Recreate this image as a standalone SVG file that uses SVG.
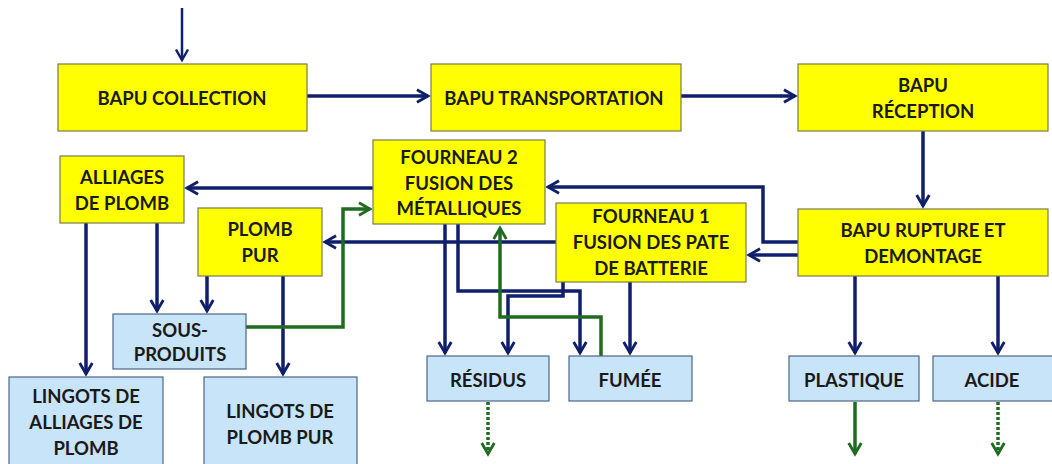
<svg xmlns="http://www.w3.org/2000/svg" width="1052" height="464" viewBox="0 0 1052 464">
<defs>
<marker id="ab" viewBox="0 0 10 10" refX="8" refY="5" markerWidth="4.5" markerHeight="4.5" markerUnits="strokeWidth" orient="auto"><path d="M1,1 L8,5 L1,9" fill="none" stroke="#0f1f6b" stroke-width="1.8"/></marker>
<marker id="ab2" viewBox="0 0 10 10" refX="8" refY="5" markerWidth="6" markerHeight="6" markerUnits="strokeWidth" orient="auto"><path d="M1,1 L8,5 L1,9" fill="none" stroke="#0f1f6b" stroke-width="1.6"/></marker>
<marker id="ag" viewBox="0 0 10 10" refX="8" refY="5" markerWidth="4.5" markerHeight="4.5" markerUnits="strokeWidth" orient="auto"><path d="M1,1 L8,5 L1,9" fill="none" stroke="#1f6b1f" stroke-width="1.8"/></marker>
</defs>
<style>
.y{fill:#ffff00;stroke:#7a7a50;stroke-width:1.2}
.b{fill:#c8e4f8;stroke:#4c6686;stroke-width:1.2}
text{font-family:Lato,"Liberation Sans",sans-serif;font-weight:bold;font-size:18.5px;fill:#1a1a1a;text-anchor:middle}
.c{fill:none;stroke:#0f1f6b;stroke-width:3.5;marker-end:url(#ab)}
.g{fill:none;stroke:#1f6b1f;stroke-width:3.5;marker-end:url(#ag)}
.d{stroke-dasharray:3,2}
</style>
<rect width="1052" height="464" fill="#ffffff"/>
<g id="connectors">
<path d="M182,8 V60" fill="none" stroke="#0f1f6b" stroke-width="2.5" marker-end="url(#ab2)"/>
<path class="c" d="M307,96 H428"/>
<path class="c" d="M681,96 H795"/>
<path class="c" d="M923,131 V206"/>
<path class="c" d="M798,255 H749"/>
<path class="c" d="M798,242 H763 V187 H548"/>
<path class="c" d="M373,188 H187"/>
<path class="c" d="M556,242 H325"/>
<path class="c" d="M86,223 V374"/>
<path class="c" d="M157,223 V311"/>
<path class="c" d="M207,276 V311"/>
<path class="c" d="M283,276 V374"/>
<path class="c" d="M445,224 V353"/>
<path class="c" d="M458,224 V291 H580 V353"/>
<path class="c" d="M563,282 V296 H508 V353"/>
<path class="c" d="M630,282 V353"/>
<path class="c" d="M855,276 V353"/>
<path class="c" d="M998,276 V353"/>
<path class="g" d="M246,327 H343 V209 H370"/>
<path class="g" d="M601,356 V317 H500 V228"/>
<path class="g d" d="M488,402 V454"/>
<path class="g" d="M855,402 V454"/>
<path class="g d" d="M998,402 V454"/>
</g>
<g id="n-collection"><rect class="y" x="58" y="64" width="249" height="67"/><text x="182" y="105">BAPU COLLECTION</text></g>
<g id="n-transport"><rect class="y" x="431" y="64" width="250" height="67"/><text x="554" y="105">BAPU TRANSPORTATION</text></g>
<g id="n-reception"><rect class="y" x="798" y="64" width="250" height="67"/><text x="923" y="92">BAPU</text><text x="923" y="118">RÉCEPTION</text></g>
<g id="n-rupture"><rect class="y" x="798" y="209" width="250" height="67"/><text x="923" y="237">BAPU RUPTURE ET</text><text x="923" y="263">DEMONTAGE</text></g>
<g id="n-f1"><rect class="y" x="556" y="203" width="190" height="79"/><text x="651" y="223">FOURNEAU 1</text><text x="651" y="249">FUSION DES PATE</text><text x="651" y="275">DE BATTERIE</text></g>
<g id="n-f2"><rect class="y" x="373" y="140" width="172" height="84"/><text x="459" y="164">FOURNEAU 2</text><text x="459" y="190">FUSION DES</text><text x="459" y="215">MÉTALLIQUES</text></g>
<g id="n-alliages"><rect class="y" x="60" y="156" width="124" height="67"/><text x="122" y="184">ALLIAGES</text><text x="122" y="210">DE PLOMB</text></g>
<g id="n-plombpur"><rect class="y" x="198" y="208" width="124" height="68"/><text x="260" y="236">PLOMB</text><text x="260" y="262">PUR</text></g>
<g id="n-sous"><rect class="b" x="113" y="314" width="133" height="55"/><text x="180" y="337">SOUS-</text><text x="180" y="361">PRODUITS</text></g>
<g id="n-lingots-a"><rect class="b" x="9" y="377" width="154" height="92"/><text x="86" y="403">LINGOTS DE</text><text x="86" y="429">ALLIAGES DE</text><text x="86" y="455">PLOMB</text></g>
<g id="n-lingots-p"><rect class="b" x="204" y="377" width="153" height="92"/><text x="280" y="418">LINGOTS DE</text><text x="280" y="444">PLOMB PUR</text></g>
<g id="n-residus"><rect class="b" x="427" y="356" width="122" height="45"/><text x="488" y="387">RÉSIDUS</text></g>
<g id="n-fumee"><rect class="b" x="569" y="356" width="123" height="45"/><text x="630" y="387">FUMÉE</text></g>
<g id="n-plastique"><rect class="b" x="789" y="356" width="130" height="45"/><text x="854" y="387">PLASTIQUE</text></g>
<g id="n-acide"><rect class="b" x="933" y="356" width="125" height="45"/><text x="992" y="387">ACIDE</text></g>
</svg>
